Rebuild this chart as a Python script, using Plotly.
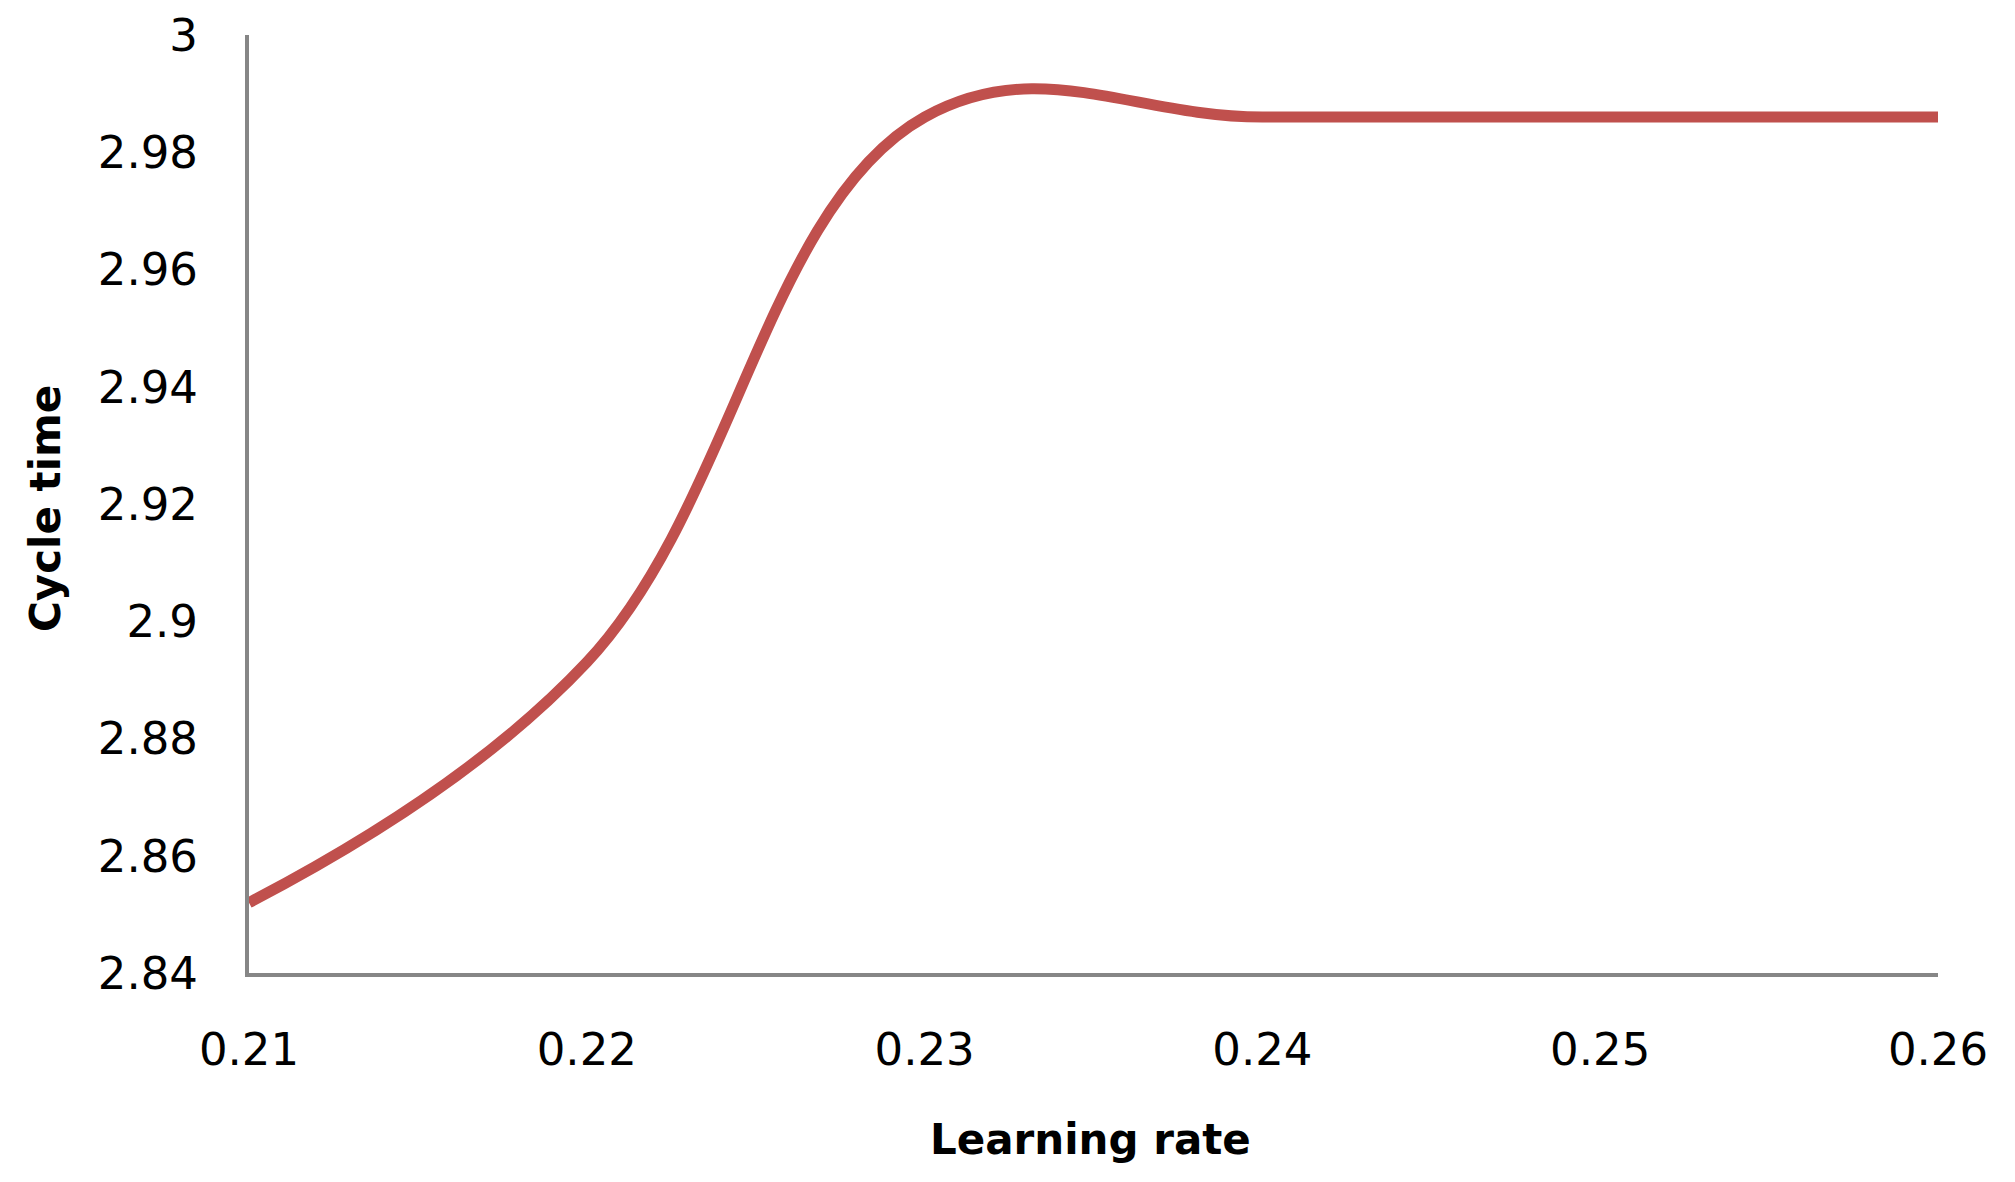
import plotly.graph_objects as go

# Data
learning_rate = [0.21, 0.22, 0.23, 0.24, 0.25, 0.26]
cycle_time = [2.852, 2.893, 2.986, 2.986, 2.986, 2.986]

x_ticks = [0.21, 0.22, 0.23, 0.24, 0.25, 0.26]
x_ticklabels = ["0.21", "0.22", "0.23", "0.24", "0.25", "0.26"]
y_ticks = [2.84, 2.86, 2.88, 2.90, 2.92, 2.94, 2.96, 2.98, 3.00]
y_ticklabels = ["2.84", "2.86", "2.88", "2.9", "2.92", "2.94", "2.96", "2.98", "3"]

x_title = "Learning rate"
y_title = "Cycle time"

W, H = 2015, 1182
L, R, T, B = 249, 77, 35, 209

fig = go.Figure()
fig.add_trace(go.Scatter(
    x=learning_rate, y=cycle_time, mode="lines",
    line=dict(color="#C0504D", width=11, shape="spline", smoothing=1.15),
    showlegend=False, hoverinfo="skip",
))

tick_font = dict(family="DejaVu Sans", size=45, color="#000000")
title_font = dict(family="DejaVu Sans", size=42, color="#000000")

fig.update_layout(
    width=W, height=H,
    margin=dict(l=L, r=R, t=T, b=B, autoexpand=False),
    paper_bgcolor="white", plot_bgcolor="white",
    xaxis=dict(
        range=[0.21, 0.26], tickvals=x_ticks, ticktext=x_ticklabels,
        showgrid=False, zeroline=False, showline=True, linecolor="#868686",
        linewidth=4, ticks="", tickfont=tick_font, ticklabelstandoff=34,
        automargin=False,
    ),
    yaxis=dict(
        range=[2.84, 3.0], tickvals=y_ticks, ticktext=y_ticklabels,
        showgrid=False, zeroline=False, showline=True, linecolor="#868686",
        linewidth=4, ticks="", tickfont=tick_font, ticklabelstandoff=38,
        automargin=False,
    ),
    annotations=[
        dict(text="<b>%s</b>" % x_title, xref="paper", yref="paper",
             x=0.498, y=-0.178, xanchor="center", yanchor="middle",
             showarrow=False, font=title_font),
        dict(text="<b>%s</b>" % y_title, xref="paper", yref="paper",
             x=-0.1208, y=0.4957, xanchor="center", yanchor="middle",
             showarrow=False, font=title_font, textangle=-90),
    ],
)

fig.write_html("out.html")
